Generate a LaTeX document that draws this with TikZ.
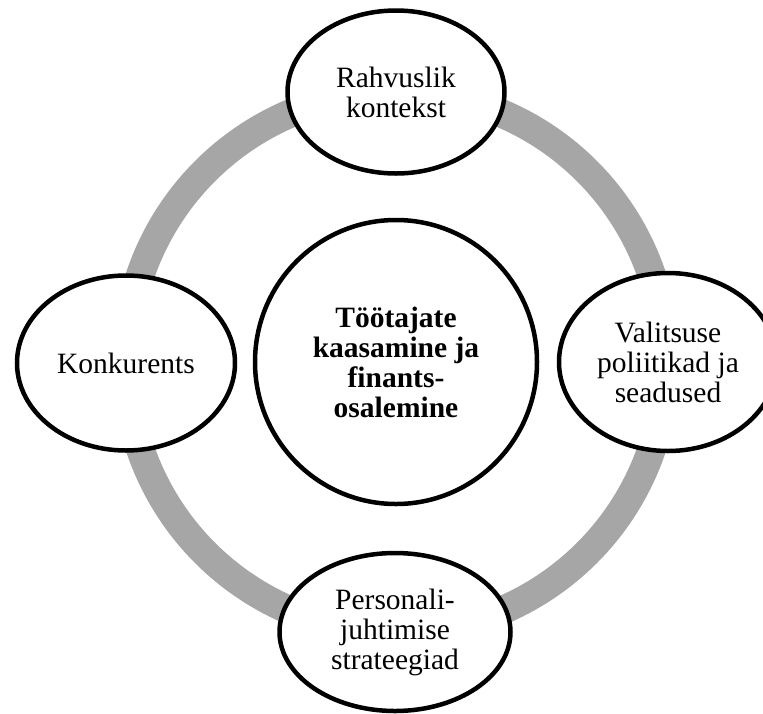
\documentclass[tikz,border=0pt]{standalone}
\usepackage{fontspec}
\setmainfont{Liberation Serif}
\usetikzlibrary{shapes.geometric}
\definecolor{ringgray}{RGB}{166,166,166}
\begin{document}
\begin{tikzpicture}[x=1pt,y=-1pt,
  bub/.style={ellipse, draw=black, line width=4.5pt, fill=white, inner sep=0pt,
    align=center, font=\fontsize{29.5}{30}\selectfont},
  ring/.style={draw=ringgray, line width=28.5pt}]
\useasboundingbox (0,0) rectangle (763,713);
\coordinate (c) at (396,362);
\draw[ring] (c) circle[radius=270pt];
\node[bub, minimum width=282pt, minimum height=284pt, font=\fontsize{29.5}{30}\selectfont\bfseries]
  (mid) at (396,362) {Töötajate\\kaasamine ja\\finants-\\osalemine};
\node[bub, minimum width=217pt, minimum height=163pt] (top) at (396,92) {Rahvuslik\\kontekst};
\node[bub, minimum width=218pt, minimum height=175pt] (left) at (126,363) {Konkurents};
\node[bub, minimum width=218pt, minimum height=178pt] (right) at (668,362) {Valitsuse\\poliitikad ja\\seadused};
\node[bub, minimum width=231pt, minimum height=158pt] (bot) at (395,632) {Personali-\\juhtimise\\strateegiad};
\end{tikzpicture}
\end{document}
